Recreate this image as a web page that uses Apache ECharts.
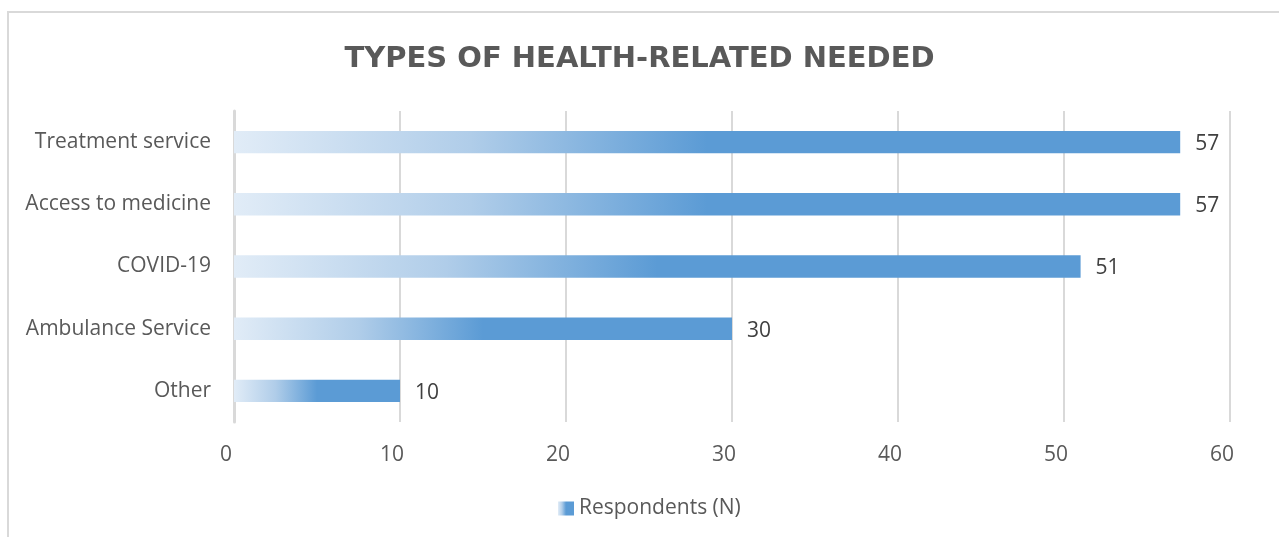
<!DOCTYPE html>
<html>
<head>
<meta charset="utf-8">
<script src="https://cdn.jsdelivr.net/npm/echarts@6/dist/echarts.min.js"></script>
<style>
  html, body { margin: 0; padding: 0; background: #ffffff; }
  #chart { width: 1279px; height: 537px; }
</style>
</head>
<body>
<div id="chart"></div>
<script>
// Health-related needs reported by respondents
const categories = ['Treatment service', 'Access to medicine', 'COVID-19', 'Ambulance Service', 'Other'];
const respondents = [57, 57, 51, 30, 10];
const seriesName = 'Respondents (N)';
const xTicks = { min: 0, max: 60, interval: 10 };

const FONT = 'Open Sans';
const barGradient = new echarts.graphic.LinearGradient(0, 0, 1, 0, [
  { offset: 0, color: '#e1ecf7' },
  { offset: 0.25, color: '#b0cde9' },
  { offset: 0.5, color: '#5b9bd5' },
  { offset: 1, color: '#5b9bd5' }
]);

const chart = echarts.init(document.getElementById('chart'), null, { renderer: 'canvas' });
chart.setOption({
  backgroundColor: '#ffffff',
  animation: false,
  textStyle: { fontFamily: FONT },
  graphic: [
    {
      type: 'rect',
      shape: { x: 8, y: 12, width: 1400, height: 700 },
      style: { fill: 'none', stroke: '#d9d9d9', lineWidth: 2 },
      silent: true
    }
  ],
  title: {
    text: 'TYPES OF HEALTH-RELATED NEEDED',
    left: 'center',
    top: 40,
    textStyle: { fontFamily: 'DejaVu Sans', fontSize: 29, fontWeight: 'bold', color: '#595959' }
  },
  legend: {
    bottom: 13,
    left: 553,
    itemWidth: 16,
    itemHeight: 14,
    itemGap: 8,
    icon: 'rect',
    textStyle: { fontFamily: FONT, fontSize: 21, color: '#595959' },
    data: [seriesName]
  },
  grid: { left: 234, right: 49, top: 111, bottom: 115, containLabel: false },
  xAxis: {
    type: 'value',
    min: xTicks.min,
    max: xTicks.max,
    interval: xTicks.interval,
    axisLine: { show: false },
    axisTick: { show: false },
    splitLine: { show: true, lineStyle: { color: '#d9d9d9', width: 2 } },
    axisLabel: { fontFamily: FONT, fontSize: 21, color: '#595959', margin: 23, padding: [0, 16, 0, 0] }
  },
  yAxis: {
    type: 'category',
    inverse: true,
    data: categories,
    axisLine: { show: true, lineStyle: { color: '#d9d9d9', width: 3 } },
    axisTick: { show: false },
    axisLabel: { fontFamily: FONT, fontSize: 21, color: '#595959', margin: 23 }
  },
  series: [{
    name: seriesName,
    type: 'bar',
    data: respondents,
    barCategoryGap: '64%',
    itemStyle: { color: barGradient },
    label: {
      show: true,
      position: 'right',
      distance: 15,
      offset: [0, 2],
      fontFamily: FONT,
      fontSize: 21,
      color: '#404040'
    }
  }]
});
</script>
</body>
</html>
